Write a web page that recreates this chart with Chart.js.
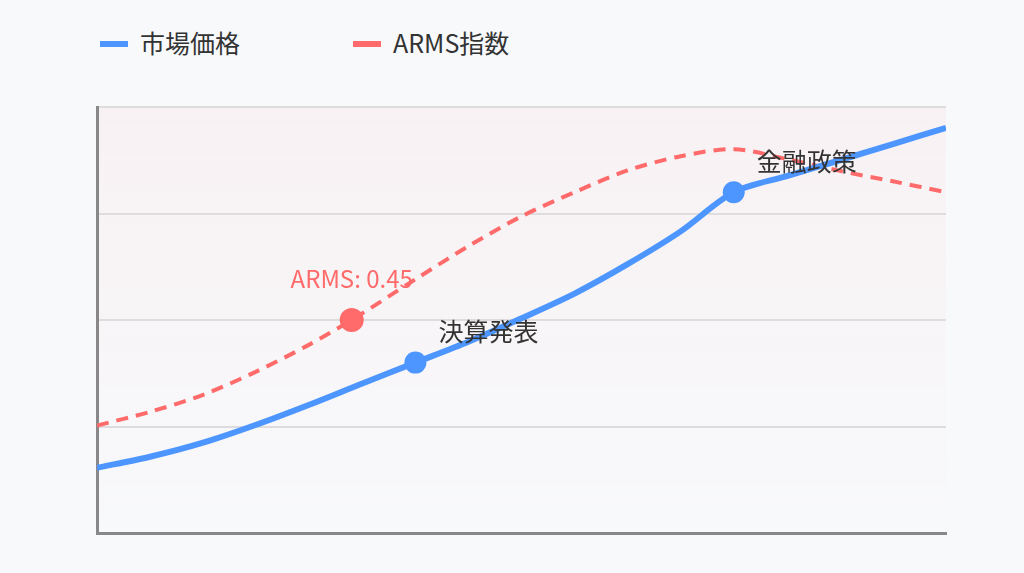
<!DOCTYPE html>
<html lang="ja">
<head>
<meta charset="utf-8">
<script src="https://cdn.jsdelivr.net/npm/chart.js@4.4.1/dist/chart.umd.min.js"></script>
<style>
  html, body { margin: 0; padding: 0; background: #f8f9fb; }
  body { width: 1024px; height: 573px; position: relative; overflow: hidden;
         font-family: "Noto Sans CJK JP", "Noto Sans", sans-serif; }
  #legend { position: absolute; left: 100px; top: 25px; display: flex; }
  #legend .item { display: flex; align-items: center; color: #333; font-size: 25px; line-height: 34px; }
  #legend .sw { width: 28px; height: 6px; margin-right: 12px; margin-top: 4px; }
  #legend .item + .item { margin-left: 113px; }
  #wrap { position: absolute; left: 0; top: 0; width: 1024px; height: 573px; }
</style>
</head>
<body>
<div id="legend"></div>
<div id="wrap"><canvas id="c"></canvas></div>
<script>
// x = trading day, y = price index / ARMS ratio
const priceDays = [0, 5, 10, 15, 20, 25, 30, 35, 40, 45, 50, 55, 60, 65, 70, 75, 80];
const priceValues = [15.3, 17.9, 21.2, 25.4, 30.1, 35.1, 40.0, 44.9, 50.4, 56.2, 63.1, 70.8, 80.0, 83.8, 87.5, 91.3, 95.1];
const armsDays = [0, 5, 10, 15, 20, 24, 30, 35, 40, 45, 50, 55, 60, 65, 70, 75, 80];
const armsValues = [0.227, 0.256, 0.292, 0.341, 0.398, 0.45, 0.536, 0.606, 0.669, 0.720, 0.766, 0.796, 0.811, 0.790, 0.765, 0.743, 0.720];

const seriesNames = ['市場価格', 'ARMS指数'];
const blue = '#4d96ff';
const red = '#ff6b6b';

// highlighted points and their notes
const priceEvents = { 6: '決算発表', 12: '金融政策' };
const armsEvents = { 5: 'ARMS: 0.45' };

const toPoints = (xs, ys) => xs.map((x, i) => ({ x, y: ys[i] }));

const plotBg = {
  id: 'plotBg',
  beforeDatasetsDraw(chart) {
    const { ctx, chartArea: a } = chart;
    const g = ctx.createLinearGradient(0, a.top, 0, a.bottom);
    g.addColorStop(0, 'rgba(255,107,107,0.05)');
    g.addColorStop(1, 'rgba(255,107,107,0)');
    ctx.save();
    ctx.globalCompositeOperation = 'destination-over';
    ctx.fillStyle = g;
    ctx.fillRect(a.left, a.top, a.right - a.left, a.bottom - a.top);
    ctx.restore();
  },
};

const notes = {
  id: 'notes',
  afterDatasetsDraw(chart) {
    const { ctx } = chart;
    ctx.save();
    ctx.textBaseline = 'middle';
    const p = chart.getDatasetMeta(0).data;
    ctx.font = '25px "Noto Sans CJK JP", sans-serif';
    ctx.fillStyle = '#333';
    ctx.textAlign = 'left';
    for (const [i, t] of Object.entries(priceEvents)) {
      ctx.fillText(t, p[i].x + 23, p[i].y - 31);
    }
    const r = chart.getDatasetMeta(1).data;
    ctx.font = '24px "Noto Sans CJK JP", sans-serif';
    ctx.fillStyle = red;
    ctx.textAlign = 'center';
    for (const [i, t] of Object.entries(armsEvents)) {
      ctx.fillText(t, r[i].x, r[i].y - 41);
    }
    ctx.restore();
  },
};

const chart = new Chart(document.getElementById('c'), {
  type: 'line',
  data: {
    datasets: [
      {
        label: seriesNames[0],
        data: toPoints(priceDays, priceValues),
        borderColor: blue,
        backgroundColor: blue,
        borderWidth: 6,
        tension: 0.3,
        pointRadius: (c) => (c.dataIndex in priceEvents ? 11 : 0),
        pointBorderWidth: 0,
        yAxisID: 'y',
      },
      {
        label: seriesNames[1],
        data: toPoints(armsDays, armsValues),
        borderColor: red,
        backgroundColor: red,
        borderWidth: 4,
        borderDash: [12, 8],
        tension: 0.3,
        pointRadius: (c) => (c.dataIndex in armsEvents ? 12 : 0),
        pointBorderWidth: 0,
        yAxisID: 'y2',
      },
    ],
  },
  options: {
    responsive: true,
    maintainAspectRatio: false,
    animation: false,
    layout: { padding: { left: 97, right: 78, top: 107, bottom: 40 } },
    plugins: { legend: { display: false }, tooltip: { enabled: false } },
    scales: {
      x: {
        type: 'linear',
        min: 0,
        max: 80,
        ticks: { display: false },
        grid: { display: false, drawTicks: false },
        border: { display: true, color: '#888', width: 3 },
      },
      y: {
        min: 0,
        max: 100,
        ticks: { display: false, stepSize: 25 },
        grid: { color: '#dedcdd', lineWidth: 2, drawTicks: false },
        border: { display: true, color: '#888', width: 3 },
      },
      y2: {
        display: false,
        min: 0,
        max: 0.9,
      },
    },
  },
  plugins: [plotBg, notes],
});

// legend built from the datasets
document.getElementById('legend').innerHTML = chart.data.datasets
  .map(d => `<span class="item"><span class="sw" style="background:${d.borderColor}"></span>${d.label}</span>`)
  .join('');
</script>
</body>
</html>
